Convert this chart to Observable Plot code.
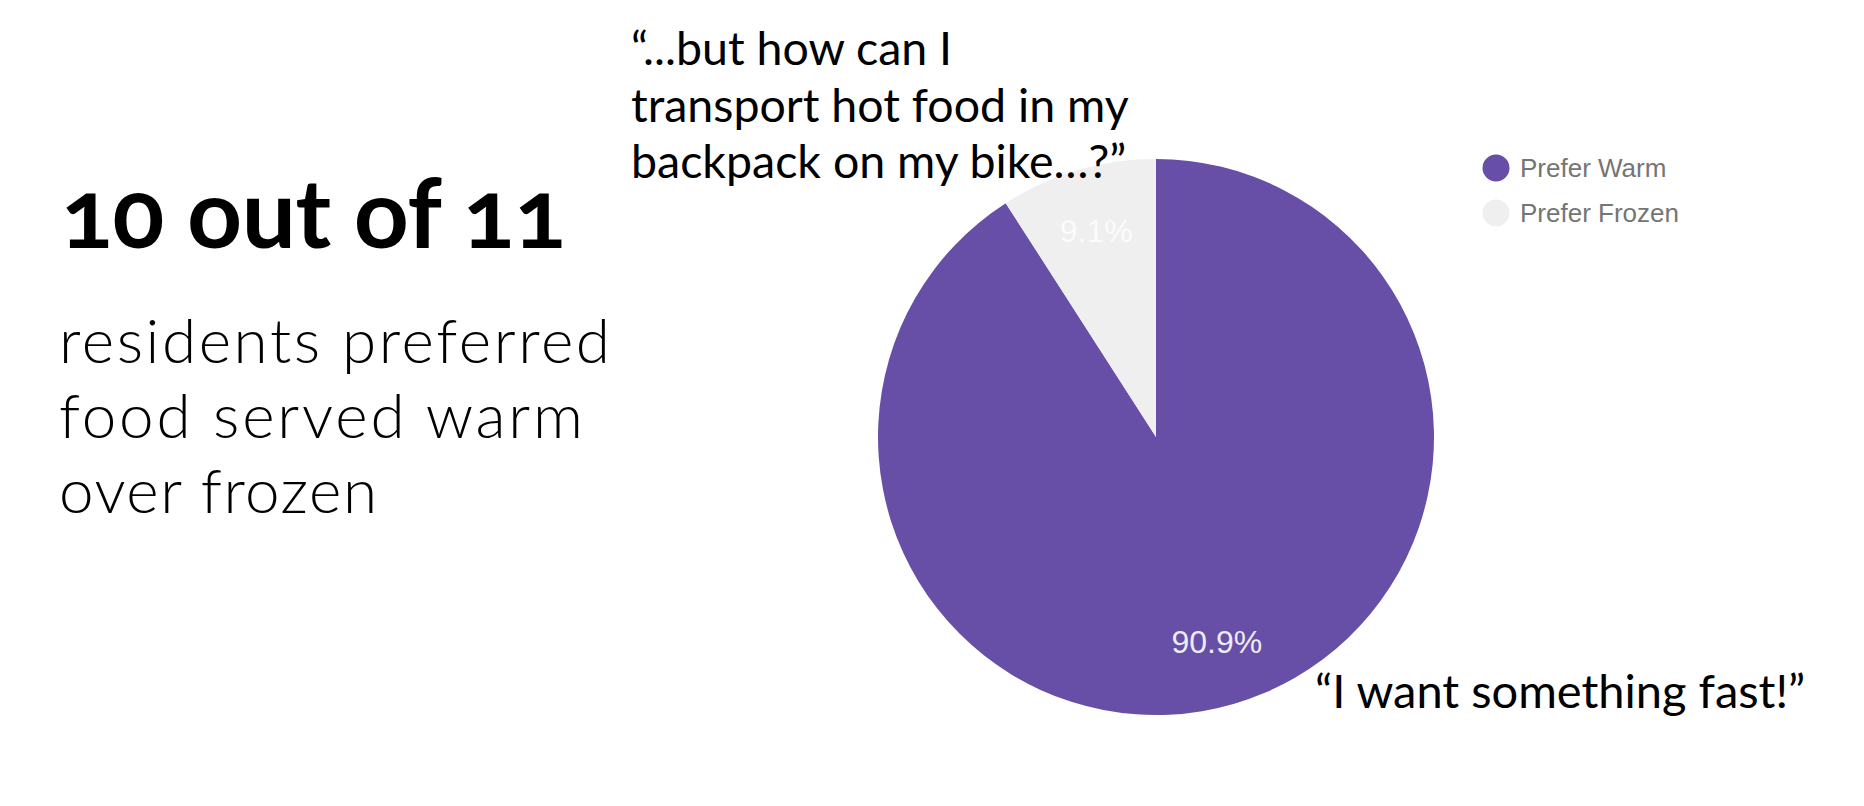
<!DOCTYPE html>
<html><head><meta charset="utf-8">
<script src="https://cdn.jsdelivr.net/npm/d3@7"></script>
<script src="https://cdn.jsdelivr.net/npm/@observablehq/plot@0.6"></script>
<style>
html,body{margin:0;padding:0;background:#fff;}
#wrap{position:relative;width:1864px;height:806px;overflow:hidden;}
</style></head><body><div id="wrap"></div>
<script>
// ---- data ----
const categories = ["Prefer Warm", "Prefer Frozen"];
const counts = [10, 1];
const percentLabels = ["90.9%", "9.1%"];
const sliceColors = ["#674ea7", "#efefef"];
const labelColors = ["#ececf2", "#fbfbfb"];
const headline = "10 out of 11";
const bodyLines = ["residents preferred", "food served warm", "over frozen"];
const quoteTop = ["“...but how can I", "transport hot food in my", "backpack on my bike…?”"];
const quoteBottom = ["“I want something fast!”"];

// ---- chart ----
const data = categories.map((c, i) => ({category: c, count: counts[i], label: percentLabels[i], labelColor: labelColors[i]}));
const arcs = d3.pie().value(d => d.count).sort(null)(data);
const color = Plot.scale({color: {type: "ordinal", domain: categories, range: sliceColors}});
const mid = a => (a.startAngle + a.endAngle) / 2;
const labelR = 0.77;

function pieMark(index, scales) {
  const cx = scales.x(0), cy = scales.y(0);
  const r = Math.abs(scales.x(1) - scales.x(0));
  const g = d3.create("svg:g").attr("transform", `translate(${cx},${cy})`);
  const arc = d3.arc().innerRadius(0).outerRadius(r);
  g.selectAll("path").data(arcs).join("path")
    .attr("d", arc)
    .attr("fill", d => color.apply(d.data.category));
  return g.node();
}

const chart = Plot.plot({
  width: 1864, height: 806,
  marginLeft: 878, marginRight: 430, marginTop: 159, marginBottom: 91,
  x: {domain: [-1, 1], axis: null},
  y: {domain: [-1, 1], axis: null},
  style: {background: "transparent", overflow: "visible"},
  marks: [
    pieMark,
    Plot.text(arcs, {
      x: a => labelR * Math.sin(mid(a)),
      y: a => labelR * Math.cos(mid(a)),
      text: a => a.data.label,
      fill: a => a.data.labelColor,
      fontSize: 32,
      fontFamily: "Liberation Sans, Arial, sans-serif"
    })
  ]
});
chart.style.position = "absolute";
chart.style.left = "0px";
chart.style.top = "0px";
document.getElementById("wrap").appendChild(chart);

// ---- annotations ----
const svg = d3.select(chart);
function addText(str, x, y, opts) {
  const t = svg.append("text")
    .attr("x", x).attr("y", y)
    .attr("text-anchor", "start")
    .attr("font-family", opts.family)
    .attr("font-size", opts.size)
    .attr("font-weight", opts.weight || 400)
    .attr("fill", opts.fill || "#000")
    .text(str);
  if (opts.style) t.attr("style", opts.style);
  if (opts.width) t.attr("textLength", opts.width).attr("lengthAdjust", "spacing");
  return t;
}
addText(headline, 61, 248, {family: "Lato", size: 96, weight: 700, width: 505,
  style: "font-variant-numeric: oldstyle-nums; font-feature-settings: 'onum' 1;"});
const bodyBase = [363, 438, 513];
const bodyWidths = [551, 524, 318];
bodyLines.forEach((s, i) => addText(s, 59, bodyBase[i], {family: "Lato", size: 62, weight: 300, width: bodyWidths[i]}));
const quoteBase = [65, 122, 178];
quoteTop.forEach((s, i) => addText(s, 631, quoteBase[i], {family: "Lato", size: 46.5}));
quoteBottom.forEach((s, i) => addText(s, 1315, 708, {family: "Lato", size: 47}));

// legend
const legendY = [168, 213];
categories.forEach((c, i) => {
  svg.append("circle").attr("cx", 1496).attr("cy", legendY[i]).attr("r", 13.5).attr("fill", color.apply(c));
  addText(c, 1520, legendY[i] + 9, {family: "Liberation Sans, Arial, sans-serif", size: 26, fill: "#757575"});
});
</script></body></html>
